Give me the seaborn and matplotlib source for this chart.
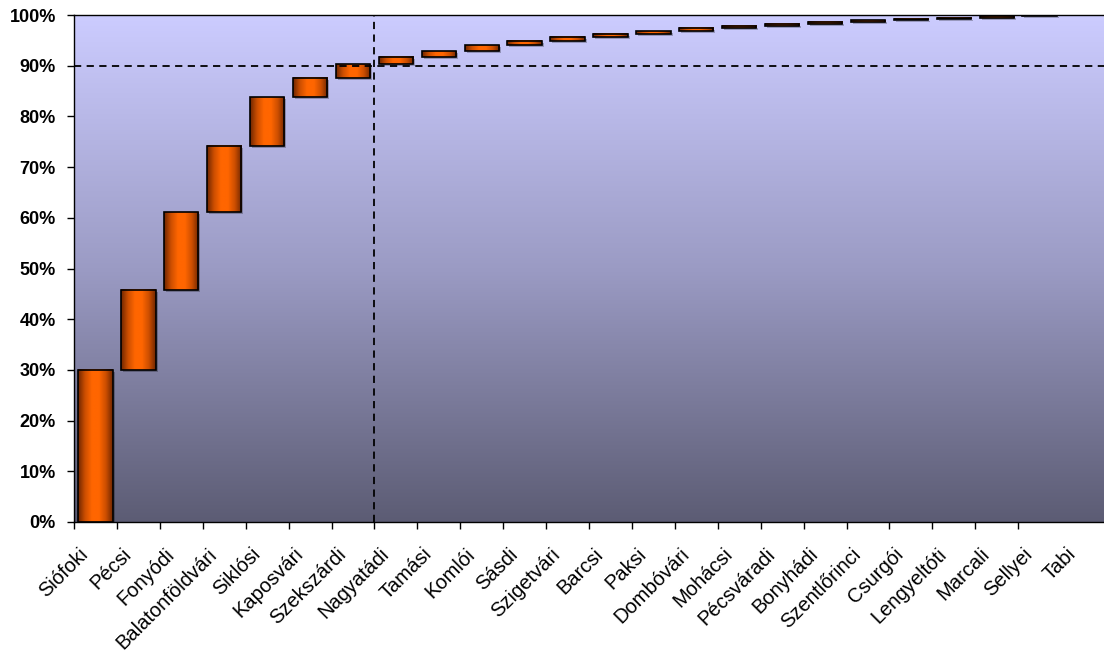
"""Pareto-style floating bar chart: cumulative share by district (kistérség)."""

import matplotlib

matplotlib.use("Agg")
import matplotlib.pyplot as plt
import matplotlib.transforms as mtransforms
import numpy as np
import pandas as pd
import seaborn as sns
from matplotlib.colors import LinearSegmentedColormap
from matplotlib.patches import Rectangle
from matplotlib.ticker import PercentFormatter

# data (cumulative share, %)
districts = [
    "Siófoki", "Pécsi", "Fonyódi", "Balatonföldvári", "Siklósi", "Kaposvári",
    "Szekszárdi", "Nagyatádi", "Tamási", "Komlói", "Sásdi", "Szigetvári",
    "Barcsi", "Paksi", "Dombóvári", "Mohácsi", "Pécsváradi", "Bonyhádi",
    "Szentlőrinci", "Csurgói", "Lengyeltóti", "Marcali", "Sellyei", "Tabi",
]
cum_share = [
    30.0, 45.8, 61.1, 74.2, 83.8, 87.6, 90.3, 91.8, 92.9, 94.0, 94.8, 95.6,
    96.3, 96.8, 97.4, 97.8, 98.2, 98.7, 99.0, 99.2, 99.4, 99.8, 100.0, 100.0,
]
threshold = 90          # horizontal reference line (%)
cutoff_index = 7        # first district beyond the 90% cut
y_ticks = list(range(0, 101, 10))

sns.set_theme(style="white")
plt.rcParams["font.family"] = ["Liberation Sans", "DejaVu Sans"]
plt.rcParams["text.color"] = "black"
plt.rcParams["xtick.color"] = "black"
plt.rcParams["ytick.color"] = "black"

df = pd.DataFrame({"district": districts, "top": cum_share})
df["bottom"] = df["top"].shift(fill_value=0.0)
df["share"] = df["top"] - df["bottom"]

W, H = 1104, 652
fig = plt.figure(figsize=(W / 100, H / 100), dpi=100)
ax = fig.add_axes([74 / W, 130 / H, 1 - 74 / W, (522 - 15) / H])

sns.barplot(data=df, x="district", y="share", bottom=df["bottom"].to_numpy(),
            width=0.8, color="#FF6600", edgecolor="black", linewidth=1.2,
            errorbar=None, ax=ax)

# gradient fills: background and the bars
bg_cmap = LinearSegmentedColormap.from_list("bg", ["#5c5c74", "#9b9bc4", "#ccccff"])
ax.imshow(np.linspace(0, 1, 256).reshape(-1, 1), cmap=bg_cmap, origin="lower",
          extent=[0, 1, 0, 1], transform=ax.transAxes, aspect="auto", zorder=0)

bar_cmap = LinearSegmentedColormap.from_list(
    "bar", ["#6e2600", "#cc4e00", "#ff6600", "#ff6600", "#cc4e00", "#6e2600"])
grad = np.linspace(0, 1, 256).reshape(1, -1)
shadow_tf = ax.transData + mtransforms.ScaledTranslation(2 / 100, -2 / 100, fig.dpi_scale_trans)
for patch in list(ax.patches):
    x0, y0 = patch.get_x(), patch.get_y()
    w, h = patch.get_width(), patch.get_height()
    patch.set_facecolor("none")
    patch.set_zorder(3)
    ax.add_patch(Rectangle((x0, y0), w, h, transform=shadow_tf,
                           facecolor=(0, 0, 0, 0.25), edgecolor="none", zorder=1.5))
    if h > 0:
        ax.imshow(grad, cmap=bar_cmap, extent=[x0, x0 + w, y0, y0 + h],
                  aspect="auto", interpolation="bilinear", zorder=2)

dash = (0, (4, 3))
ax.axhline(threshold, color="black", lw=1.3, ls=dash, zorder=4)
ax.axvline(cutoff_index - 0.5, color="black", lw=1.3, ls=dash, zorder=4)

ax.set_xlim(-0.5, len(districts) - 0.5)
ax.set_ylim(0, 100)
ax.set_xlabel("")
ax.set_ylabel("")

# Excel-like axes: tick marks at category boundaries, labels at centres
ax.set_xticks(np.arange(len(districts) - 1) - 0.5)
ax.set_xticklabels([])
ax.set_xticks(np.arange(len(districts)), labels=districts, minor=True)
ax.tick_params(axis="x", which="major", direction="out", length=5, width=1,
               color="black", bottom=True)
ax.tick_params(axis="x", which="minor", length=0, pad=21, labelsize=14.5)
offset = mtransforms.ScaledTranslation(-10 / 100, 0, fig.dpi_scale_trans)
for lab in ax.get_xticklabels(minor=True):
    lab.set_rotation(45)
    lab.set_ha("right")
    lab.set_va("center")
    lab.set_rotation_mode("anchor")
    lab.set_color("black")
    lab.set_transform(lab.get_transform() + offset)

ax.set_yticks(y_ticks)
ax.yaxis.set_major_formatter(PercentFormatter(decimals=0))
ax.tick_params(axis="y", direction="out", length=5, width=1, color="black",
               left=True, pad=8, labelsize=13)
for lab in ax.get_yticklabels():
    lab.set_fontweight("bold")
    lab.set_color("black")

for side in ("left", "bottom", "top"):
    ax.spines[side].set_visible(True)
    ax.spines[side].set_color("black")
    ax.spines[side].set_linewidth(1)
    ax.spines[side].set_zorder(5)
ax.spines["right"].set_visible(False)
ax.grid(False)

fig.savefig("out.png", dpi=100)
